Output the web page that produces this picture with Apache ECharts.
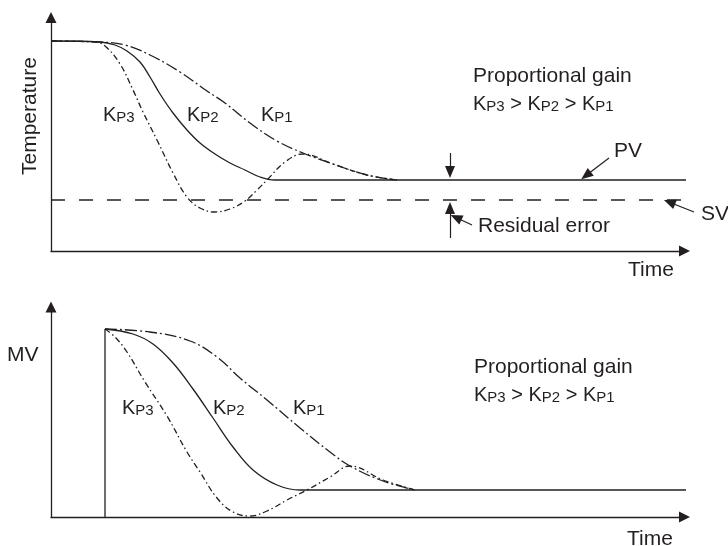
<!DOCTYPE html>
<html>
<head>
<meta charset="utf-8">
<script src="https://cdn.jsdelivr.net/npm/echarts@6/dist/echarts.min.js"></script>
<style>
  html, body { margin: 0; padding: 0; background: #fff; }
  #main { width: 728px; height: 546px; }
</style>
</head>
<body>
<div id="main"></div>
<script>
// time units along both panels
// top panel: temperature response (PV) for three proportional gains
var pvKp1 = [[0, 21.0], [4.9, 20.9], [7.4, 20.6], [9.9, 19.6], [12.9, 17.9], [15.6, 16.0], [17.4, 14.8],
  [19.9, 12.8], [22.6, 11.0], [25.2, 9.8], [28.2, 8.7], [31.6, 7.6], [34.6, 7.1]];
var pvKp2 = [[0, 21.0], [4.9, 20.9], [6.4, 20.6], [7.6, 20.0], [8.9, 18.9], [9.9, 17.4], [10.9, 15.7],
  [12.2, 13.8], [13.6, 12.1], [14.9, 10.8], [16.4, 9.7], [17.9, 8.8], [19.4, 8.1], [20.9, 7.4], [22.4, 7.1],
  [63.6, 7.1]];
var pvKp3 = [[0, 21.0], [4.4, 20.9], [5.4, 20.5], [6.9, 18.7], [8.2, 16.1], [9.2, 13.9], [10.6, 11.1],
  [12.2, 7.8], [13.6, 5.4], [14.9, 4.3], [16.4, 3.9], [17.9, 4.2], [19.4, 5.0], [20.6, 6.1], [21.6, 7.1],
  [23.4, 8.9], [25.2, 9.7], [28.2, 8.7], [31.6, 7.6], [34.6, 7.1]];
var svLevel = [[0, 5.1], [63.6, 5.1]];

// bottom panel: manipulated value (MV)
var mvStep = [[5.4, 0], [5.4, 18.8]];
var mvKp1 = [[5.4, 18.8], [9.9, 18.5], [13.9, 17.6], [16.6, 16.0], [18.9, 13.9], [21.6, 11.7], [24.9, 8.9],
  [27.9, 6.5], [29.9, 5.1], [33.2, 3.6], [36.4, 2.7]];
var mvKp2 = [[5.4, 18.8], [8.2, 18.3], [10.2, 17.3], [12.2, 15.4], [14.2, 12.8], [16.2, 9.9], [18.2, 7.0],
  [20.2, 4.7], [22.6, 3.2], [24.9, 2.7], [63.6, 2.7]];
var mvKp3 = [[5.4, 18.8], [6.4, 18.0], [7.6, 16.5], [9.4, 13.5], [11.6, 10.1], [13.6, 6.5], [14.9, 4.5],
  [16.6, 1.9], [18.2, 0.5], [19.9, 0.1], [21.6, 0.6], [23.6, 1.7], [25.6, 2.7], [27.9, 4.0], [29.9, 5.1],
  [33.2, 3.7], [36.4, 2.7]];

var ink = '#231f20';
var font = '"Liberation Sans", Arial, sans-serif';

var subRich = {
  k: { fontSize: 20, fontFamily: font, fill: ink, verticalAlign: 'bottom' },
  p: { fontSize: 15, fontFamily: font, fill: ink, verticalAlign: 'bottom' }
};
function kLabel(txt, left, top) {
  return {
    type: 'text', left: left, top: top,
    style: { text: '{k|K}{p|' + txt + '}', fill: ink, font: '20px ' + font, rich: subRich }
  };
}
function gainText(left, top) {
  return {
    type: 'text', left: left, top: top,
    style: { text: '{k|K}{p|P3} {k|> K}{p|P2} {k|> K}{p|P1}', fill: ink, font: '20px ' + font, rich: subRich }
  };
}
function plainText(txt, left, top, extra) {
  var el = { type: 'text', left: left, top: top, style: { text: txt, fill: ink, font: '21px ' + font } };
  if (extra) Object.assign(el, extra);
  return el;
}

function axisX(idx) {
  return {
    type: 'value', gridIndex: idx, min: 0, max: 63.3,
    axisLine: { show: true, lineStyle: { color: ink, width: 1.3 }, symbol: ['none', 'triangle'], symbolSize: [11, 11], symbolOffset: [0, 0.5] },
    axisTick: { show: false }, axisLabel: { show: false }, splitLine: { show: false }
  };
}
function axisY(idx, max, off) {
  return {
    type: 'value', gridIndex: idx, min: 0, max: max,
    axisLine: { show: true, onZero: false, lineStyle: { color: ink, width: 1.3 }, symbol: ['none', 'triangle'], symbolSize: [11, 11], symbolOffset: [0, off] },
    axisTick: { show: false }, axisLabel: { show: false }, splitLine: { show: false }
  };
}
function curve(name, data, xi, dash) {
  return {
    name: name, type: 'line', xAxisIndex: xi, yAxisIndex: xi, data: data,
    smooth: 0.4, symbol: 'none', clip: false, silent: true,
    lineStyle: { color: ink, width: 1.3, type: dash }
  };
}

var arrowLine = { color: ink, width: 1.2, type: 'solid' };

var myChart = echarts.init(document.getElementById('main'));
myChart.setOption({
  animation: false,
  backgroundColor: '#fff',
  grid: [
    { left: 51, top: 20, width: 633, height: 231 },
    { left: 51, top: 307, width: 633, height: 210 }
  ],
  xAxis: [axisX(0), axisX(1)],
  yAxis: [axisY(0, 23.1, 2.5), axisY(1, 21.0, 0)],
  series: [
    curve('KP1', pvKp1, 0, [12, 3, 2, 3]),
    curve('KP2', pvKp2, 0, 'solid'),
    curve('KP3', pvKp3, 0, [6, 3, 1.5, 3]),
    {
      name: 'SV', type: 'line', xAxisIndex: 0, yAxisIndex: 0, data: svLevel, symbol: 'none', clip: false, silent: true,
      lineStyle: { color: ink, width: 1.3, type: [14, 14] },
      markLine: {
        silent: true, symbol: ['none', 'triangle'], symbolSize: [10, 12], label: { show: false },
        lineStyle: arrowLine, animation: false,
        data: [
          [{ coord: [39.9, 9.8] }, { coord: [39.9, 7.9] }],
          [{ coord: [39.9, 1.3] }, { coord: [39.9, 4.3] }],
          [{ coord: [42.1, 2.6] }, { coord: [40.5, 3.35] }],
          [{ coord: [55.8, 9.3] }, { coord: [53.5, 7.55] }],
          [{ x: 694, y: 212 }, { x: 669.5, y: 202.2 }]
        ]
      }
    },
    {
      name: 'step', type: 'line', xAxisIndex: 1, yAxisIndex: 1, data: mvStep, symbol: 'none', silent: true,
      lineStyle: { color: ink, width: 1.3 }
    },
    curve('KP1', mvKp1, 1, [12, 3, 2, 3]),
    curve('KP2', mvKp2, 1, 'solid'),
    curve('KP3', mvKp3, 1, [6, 3, 1.5, 3])
  ],
  graphic: [
    plainText('Temperature', 20, 114, { rotation: Math.PI / 2, left: null, top: null, x: 20, y: 175 }),
    plainText('MV', 7, 345),
    plainText('Time', 628, 260),
    plainText('Time', 627, 529),
    plainText('Proportional gain', 473, 66),
    gainText(473, 94),
    plainText('Proportional gain', 474, 357),
    gainText(474, 385),
    plainText('PV', 614, 141),
    plainText('SV', 701, 204),
    plainText('Residual error', 478, 216),
    kLabel('P3', 103, 105),
    kLabel('P2', 187, 105),
    kLabel('P1', 261, 105),
    kLabel('P3', 122, 398),
    kLabel('P2', 213, 398),
    kLabel('P1', 293, 398)
  ]
});
</script>
</body>
</html>
